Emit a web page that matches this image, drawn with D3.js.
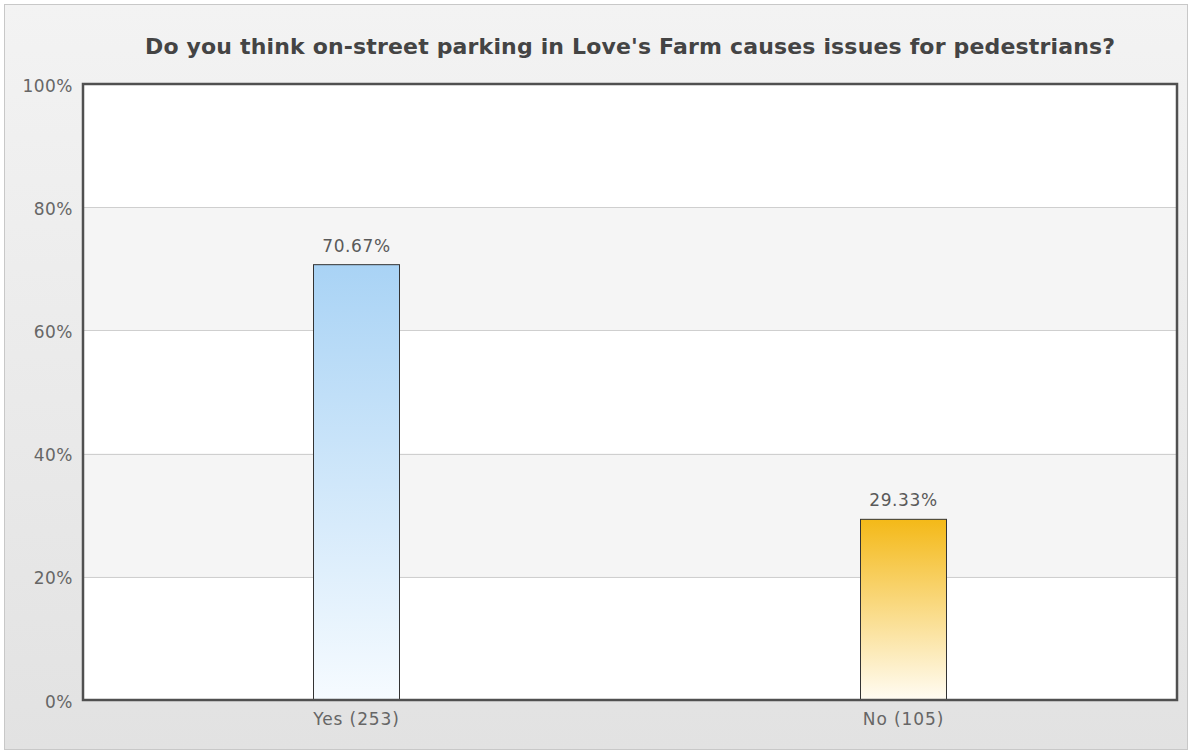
<!DOCTYPE html>
<html><head><meta charset="utf-8">
<script src="https://cdn.jsdelivr.net/npm/d3@7"></script>
<style>body{margin:0;background:#fff}svg{display:block}</style>
</head><body>
<svg id="c" width="1192" height="753"></svg>
<script>
const categories = ["Yes (253)", "No (105)"];
const values = [70.67, 29.33];
const valueLabels = ["70.67%", "29.33%"];
const yTicks = [0, 20, 40, 60, 80, 100];
const title = "Do you think on-street parking in Love's Farm causes issues for pedestrians?";

const svg = d3.select("#c");
const W = 1192, H = 753;
const m = {l: 83, r: 15, t: 84, b: 53};
const pw = W - m.l - m.r, ph = H - m.t - m.b;
const FONT = "Verdana, 'DejaVu Sans', sans-serif";
const defs = svg.append("defs");
const bg = defs.append("linearGradient").attr("id","bg").attr("x1",0).attr("y1",0).attr("x2",0).attr("y2",1);
bg.append("stop").attr("offset","0%").attr("stop-color","#f3f3f3");
bg.append("stop").attr("offset","100%").attr("stop-color","#e2e2e2");
const grads = [["#a9d3f5","#f6fbff"],["#f4b918","#fffcf3"]];
grads.forEach((g,i)=>{
  const lg = defs.append("linearGradient").attr("id","g"+i).attr("x1",0).attr("y1",0).attr("x2",0).attr("y2",1);
  lg.append("stop").attr("offset","0%").attr("stop-color",g[0]);
  lg.append("stop").attr("offset","100%").attr("stop-color",g[1]);
});
svg.append("rect").attr("x",0).attr("y",0).attr("width",W).attr("height",H).attr("fill","#fff");
svg.append("rect").attr("x",4.5).attr("y",4.5).attr("width",W-9).attr("height",H-8).attr("fill","url(#bg)").attr("stroke","#c8c8c8");

const x = d3.scaleBand().domain(categories).range([m.l, m.l+pw]);
const y = d3.scaleLinear().domain([0,100]).range([m.t+ph, m.t]);
const g = svg.append("g");
for (let i=0;i<yTicks.length-1;i++){
  g.append("rect").attr("x",m.l).attr("y",y(yTicks[i+1])).attr("width",pw)
   .attr("height",y(yTicks[i])-y(yTicks[i+1])).attr("fill", i%2===1 ? "#f5f5f5" : "#ffffff");
}
g.selectAll(".grid").data(yTicks.slice(1,-1)).join("line")
 .attr("x1",m.l).attr("x2",m.l+pw).attr("y1",d=>Math.round(y(d))+0.5).attr("y2",d=>Math.round(y(d))+0.5)
 .attr("stroke","#cfcfcf").attr("stroke-width",1);
const bw = 86;
g.selectAll(".bar").data(values).join("rect")
 .attr("x",(d,i)=>x(categories[i])+x.bandwidth()/2-bw/2)
 .attr("y",d=>y(d)).attr("width",bw).attr("height",d=>y(0)-y(d))
 .attr("fill",(d,i)=>"url(#g"+i+")").attr("stroke","#333").attr("stroke-width",1);
g.selectAll(".vl").data(values).join("text")
 .attr("x",(d,i)=>x(categories[i])+x.bandwidth()/2).attr("y",d=>y(d)-13)
 .attr("text-anchor","middle").attr("font-family",FONT).attr("font-size",17).attr("letter-spacing",0.6)
 .attr("fill","#5a5a5a").text((d,i)=>valueLabels[i]);
g.append("rect").attr("x",m.l).attr("y",m.t).attr("width",pw).attr("height",ph)
 .attr("fill","none").attr("stroke","#505050").attr("stroke-width",2.5);
const ya = svg.append("g").attr("transform",`translate(${m.l},0)`)
 .call(d3.axisLeft(y).tickValues(yTicks).tickFormat(d=>d+"%").tickSize(0).tickPadding(10));
ya.select(".domain").remove();
ya.selectAll("text").attr("font-family",FONT).attr("font-size",17).attr("letter-spacing",0.5).attr("fill","#666").attr("dy","0.42em");
const xa = svg.append("g").attr("transform",`translate(0,${m.t+ph})`)
 .call(d3.axisBottom(x).tickSize(0).tickPadding(13));
xa.select(".domain").remove();
xa.selectAll("text").attr("font-family",FONT).attr("font-size",17).attr("letter-spacing",0.9).attr("fill","#666");
svg.append("text").attr("x",m.l+pw/2).attr("y",54).attr("text-anchor","middle")
 .attr("font-family",FONT).attr("font-weight","bold").attr("font-size",22)
 .attr("textLength",970).attr("lengthAdjust","spacing")
 .attr("fill","#444").text(title);
</script>
</body></html>
